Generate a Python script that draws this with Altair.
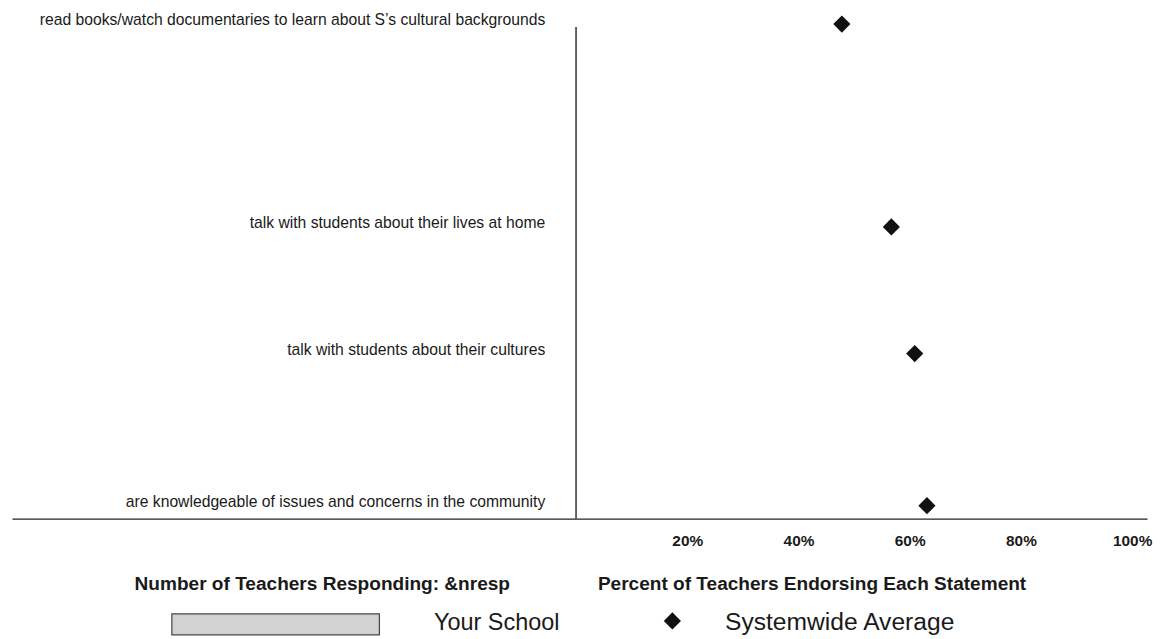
import altair as alt
import pandas as pd

# ---------------- data ----------------
statements = [
    "read books/watch documentaries to learn about S\u2019s cultural backgrounds",
    "talk with students about their lives at home",
    "talk with students about their cultures",
    "are knowledgeable of issues and concerns in the community",
]
systemwide_pct = [47.8, 56.7, 60.9, 63.1]
tick_values = [20, 40, 60, 80, 100]
x_title = "Percent of Teachers Endorsing Each Statement"
n_title = "Number of Teachers Responding: &nresp"
legend_labels = ["Your School", "Systemwide Average"]

# ---------------- layout ----------------
slot_of_statement = [0, 8, 13, 19]   # vertical slot of each statement (out of 20 rows)
n_slots = 20
W, H = 1143, 498
Y_RANGE = 485
FONT = "Liberation Sans"
INK = "#1a1a1a"

y_domain = [f"_gap{i}" for i in range(n_slots)]
for s, idx in zip(statements, slot_of_statement):
    y_domain[idx] = s

df = pd.DataFrame({"statement": statements, "pct": systemwide_pct})

x_scale = alt.Scale(domain=[-101.43, 102.68], nice=False, zero=False)
y_scale = alt.Scale(domain=y_domain, range=[0, Y_RANGE], padding=0)

x_axis = alt.Axis(
    values=tick_values,
    labelExpr="datum.value + '%'",
    ticks=False,
    grid=False,
    domain=True,
    domainColor="#222",
    domainWidth=1.5,
    labelFont=FONT,
    labelFontWeight="bold",
    labelFontSize=15.5,
    labelColor=INK,
    labelPadding=15,
    labelFlush=False,
    labelOverlap=False,
    labelBound=False,
    title=None,
)

points = alt.Chart(df).mark_point(
    shape="diamond", filled=True, color="#111", size=300, opacity=1
).encode(
    x=alt.X("pct:Q", scale=x_scale, axis=x_axis),
    y=alt.Y("statement:N", scale=y_scale, axis=None),
)

labels = alt.Chart(df).mark_text(
    align="right", baseline="middle", dx=-31, dy=-4,
    font=FONT, fontSize=15.8, color=INK,
).encode(
    x=alt.datum(0),
    y=alt.Y("statement:N", scale=y_scale, axis=None),
    text="statement:N",
)

vline = alt.Chart(pd.DataFrame({"z": [0]})).mark_rule(
    color="#333", strokeWidth=1.5
).encode(
    x=alt.X("z:Q"),
    y=alt.value(3),
    y2=alt.value(H),
)

n_text = alt.Chart(pd.DataFrame({"t": [n_title]})).mark_text(
    align="left", baseline="middle", font=FONT, fontWeight="bold",
    fontSize=19.2, color=INK,
).encode(text="t:N", x=alt.value(123.5), y=alt.value(564))

p_text = alt.Chart(pd.DataFrame({"t": [x_title]})).mark_text(
    align="left", baseline="middle", font=FONT, fontWeight="bold",
    fontSize=19.2, color=INK,
).encode(text="t:N", x=alt.value(590), y=alt.value(564))

school_box = alt.Chart(pd.DataFrame({"t": [legend_labels[0]]})).mark_rect(
    fill="#d2d2d2", stroke="#444", strokeWidth=1.2
).encode(
    x=alt.value(161), x2=alt.value(370), y=alt.value(594), y2=alt.value(615)
)

school_text = alt.Chart(pd.DataFrame({"t": [legend_labels[0]]})).mark_text(
    align="left", baseline="middle", font=FONT, fontSize=23.6, color=INK,
).encode(text="t:N", x=alt.value(425), y=alt.value(603))

sys_symbol = alt.Chart(pd.DataFrame({"t": [legend_labels[1]]})).mark_point(
    shape="diamond", filled=True, color="#111", size=300, opacity=1
).encode(x=alt.value(665), y=alt.value(601))

sys_text = alt.Chart(pd.DataFrame({"t": [legend_labels[1]]})).mark_text(
    align="left", baseline="middle", font=FONT, fontSize=24.8, color=INK,
).encode(text="t:N", x=alt.value(718), y=alt.value(603))

chart = alt.layer(
    vline, labels, points, n_text, p_text, school_box, school_text, sys_symbol, sys_text
).properties(
    width=W,
    height=H,
    autosize=alt.AutoSizeParams(type="none"),
    padding={"left": 4, "top": 14, "right": 7, "bottom": 117},
    background="white",
).configure_view(stroke=None)

chart.save("out.html", embed_options={"renderer": "svg", "actions": False})
